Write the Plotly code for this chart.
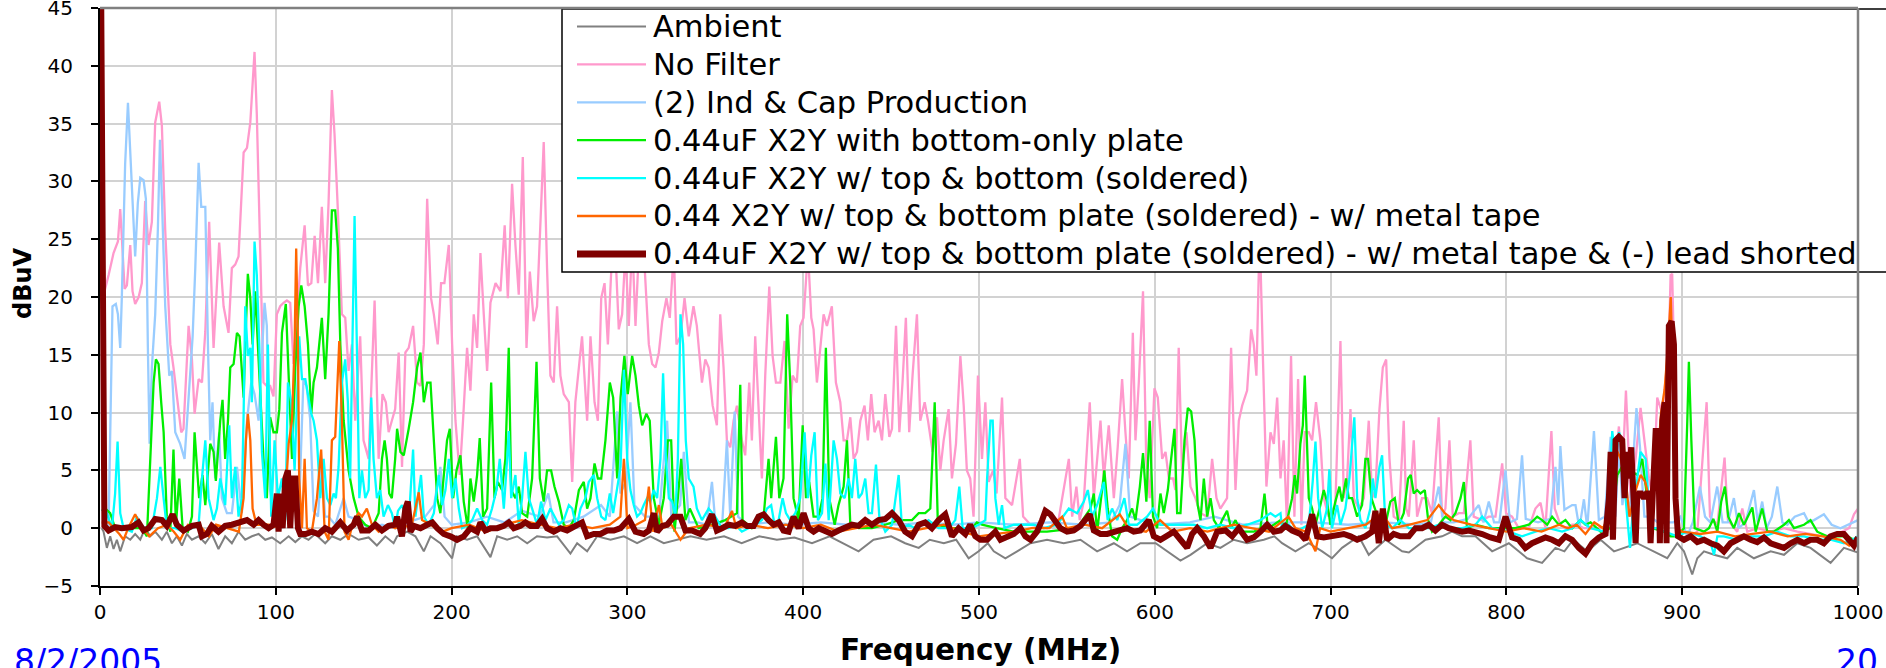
import plotly.graph_objects as go

# ---------------- data (frequency MHz, dBuV) ----------------
ambient = [(1,0),(2,-0.3),(3.9,-1.7),(5.8,-0.7),(7.7,-1.8),(9.6,-1.0),(11.5,-2.0),(14.3,-0.7),(17.2,-1.0),(20,-0.5),
 (22.9,-1.0),(25.7,0),(28.6,-0.7),(31.4,-0.3),(35.2,-1.0),(38,-0.3),(40.9,-1.3),(43.7,-0.7),(46.6,-1.5),(49.4,-0.5),
 (52.3,-1.0),(56.1,-0.7),(59.9,-1.3),(63.6,-0.5),(67.4,-1.8),(71.2,-0.7),(75,-1.3),(78.8,-0.3),(82.6,-1.0),(86.4,-0.7),
 (90.2,-0.5),(94,-1.0),(97.8,-0.8),(102.5,-1.3),(107.3,-0.7),(111.1,-1.2),(114.9,-0.7),(118.6,-1.0),(122.4,-0.5),
 (128.1,-1.3),(131.9,-0.7),(136.7,-1.0),(141.4,-0.5),(147.1,-1.0),(152.8,-0.8),(157.5,-1.5),(162.3,-0.7),(167,-1.3),
 (169,-0.7),(174.7,-0.3),(179.4,-0.7),(184.2,-2.0),(188,-0.7),(193.6,-1.3),(200.3,-2.6),(203,-0.7),(208.8,-1.0),
 (214.5,-0.7),(222.1,-2.5),(225.9,-0.7),(231.6,-1.0),(237.3,-0.7),(243,-1.3),(248.6,-0.7),(254.3,-0.8),(260,-0.7),
 (267.6,-2.2),(271.4,-1.3),(277.1,-2.0),(282.8,-0.7),(290.4,-1.0),(298,-0.7),(305.5,-1.3),(313.1,-0.7),(320.7,-1.3),
 (328.3,-1.0),(335.9,-0.7),(345,-1.0),(355,-0.7),(365,-1.3),(375,-0.7),(385,-1.0),(395,-0.8),(405,-1.3),(415,-0.7),
 (427.7,-1.7),(431.5,-2.0),(440,-1.0),(450,-0.7),(458,-1.3),(465.7,-1.7),(472,-1.0),(480,-1.3),(487,-1.0),(494.1,-2.6),
 (499.8,-2.0),(505,-1.3),(508.4,-2.0),(515,-2.6),(521.7,-2.0),(529.3,-1.3),(538.7,-1.0),(548.2,-1.3),(557.7,-1.0),
 (567.2,-2.0),(576.7,-1.3),(584.2,-2.0),(591.8,-1.3),(600.5,-1.3),(614.6,-2.8),(620.3,-2.3),(629.8,-1.3),(637.3,-1.7),
 (644.9,-1.0),(652.5,-1.3),(662,-1.0),(668,-0.7),(672.4,-1.3),(680,-2.0),(687.6,-1.3),(695.2,-2.0),(700.8,-2.6),
 (706.5,-1.7),(716,-0.7),(721.7,-2.3),(731.2,-1.0),(740.7,-2.0),(744.5,-2.1),(754,-1.0),(763.4,-0.7),(769.1,-0.3),
 (774.8,-0.7),(782.4,-0.7),(791.9,-2.0),(801.4,-1.3),(811.8,-2.6),(820.3,-3.0),(827.9,-1.7),(833,-2.0),(838,-1.0),
 (846,-2.0),(853.6,-1.0),(861.2,-2.0),(874.4,-1.3),(891.5,-2.6),(897.2,-1.3),(901,-2.0),(905.7,-4.0),(908.6,-2.6),
 (912.4,-2.0),(918.1,-2.3),(925.6,-2.6),(931.3,-1.7),(940.8,-2.6),(950.3,-2.0),(957.9,-2.3),(965.5,-1.3),(973,-1.7),
 (984.4,-3.0),(992,-1.7),(1000,-2.1)]

no_filter = [(0.8,19.0),(2.6,20.5),(4.9,21.9),(7.7,23.8),(10.2,24.8),(11.5,27.6),(12.4,25.2),(14,20.7),(15.3,21.0),
 (17.2,24.5),(18.5,20.5),(20,19.4),(22,20.0),(23.8,21.2),(25.7,28.3),(27.6,24.5),(29.5,26.5),(31.4,35.1),(33.7,36.9),
 (35.2,34.8),(37.1,25.8),(38.6,20.2),(40,15.9),(41.8,13.9),(44.7,9.9),(46.2,8.3),(47.5,8.6),(50.4,17.5),(52.3,14.6),
 (53.8,9.9),(56.1,12.9),(58,12.6),(59.9,17.0),(62.1,26.5),(64.6,15.6),(67.8,24.7),(70.3,19.2),(73.1,16.9),(75,22.5),
 (76.9,22.8),(78.8,23.5),(81.7,32.5),(83.6,32.9),(85.5,35.1),(87.9,41.2),(89.2,35.8),(91.1,24.2),(93,12.6),(94.9,12.3),
 (96.8,12.3),(98.7,11.4),(100.6,18.5),(102.5,19.2),(104.4,19.5),(106.3,19.7),(108.2,19.5),(110.1,14.2),(111.5,17.0),
 (113.9,22.5),(116.4,26.2),(118.3,21.0),(120.2,21.2),(122.1,25.3),(124,21.2),(126.2,27.8),(128.1,21.2),(130,28.1),
 (131.9,37.9),(133.4,34.1),(135.3,27.5),(137.6,18.5),(139.5,18.2),(141.4,13.6),(143.3,15.9),(145.2,9.3),(148,16.6),
 (149.9,7.6),(152.8,6.0),(156.2,19.7),(158.5,6.0),(160.7,11.6),(162.6,10.9),(164.2,8.3),(166,9.3),(167.9,10.3),
 (169.9,15.2),(171.8,5.3),(173.7,15.2),(175.6,15.6),(178.1,17.5),(180.4,12.6),(182.3,12.3),(184.2,15.9),(186.1,28.5),
 (188.3,19.9),(189.9,18.5),(192.1,15.9),(194,21.2),(195.9,21.2),(198.4,24.5),(200.3,15.9),(202.2,9.3),(204.6,4.6),
 (206.5,9.3),(208.8,15.6),(210.7,11.9),(212.6,18.5),(214.5,15.6),(216.4,23.8),(218.3,18.5),(220.2,13.6),(222.1,19.5),
 (225,21.2),(227.8,20.5),(230.2,26.2),(232,19.9),(234.4,29.8),(236.3,24.5),(238.2,20.2),(240.5,32.1),(242.6,15.6),
 (244.5,22.2),(246.7,17.9),(248.6,19.2),(250.7,27.8),(252.4,33.4),(254.3,22.5),(256.2,13.2),(258.1,12.6),(260,19.2),
 (261.9,13.2),(263.8,11.6),(266.7,10.9),(268.6,4.0),(270.4,10.9),(272.4,14.2),(274.2,16.6),(277.1,9.3),(279,16.6),
 (281.3,10.9),(283.2,9.3),(285.1,19.9),(287,21.2),(288.9,15.9),(290.7,21.9),(292.6,26),(295.1,17.2),(297,18.5),
 (298.9,24),(300.8,17.5),(302.7,25),(304.6,17.5),(306.5,24),(309.3,24),(312.2,15.9),(314.1,14.2),(316,13.9),
 (317.9,15.2),(319.8,17.9),(322.2,19.9),(324.1,18.2),(326.4,24),(327.9,15.9),(330.2,16.6),(332.5,19.9),(334.9,16.6),
 (337.6,19.2),(339.5,17.5),(342.4,12.6),(344.3,14.6),(346.2,13.9),(348.5,10.6),(350.9,8.9),(352.8,18.5),(354.7,13.9),
 (356.6,7.6),(358.5,7.0),(360.4,9.3),(362.3,10.6),(365.1,7.6),(367,6.3),(369.3,12.6),(370.8,7.6),(372.7,16.6),
 (374.6,10.9),(376.5,4.3),(378.4,13.2),(380.7,20.9),(382.6,14.9),(384.5,12.6),(387,12.6),(389.4,16.2),(391.7,8.6),
 (394,13.2),(396.4,12.6),(398.3,17.5),(400.2,18.2),(402.7,24),(404.6,18.2),(405.9,17.2),(407.8,12.6),(409.7,15.9),
 (411.6,18.5),(413.5,17.5),(416.3,19.2),(418.6,12.6),(421.1,10.9),(423,7.6),(424.9,7.6),(426.8,9.6),(428.7,6.0),
 (430.6,6.6),(432.5,9.3),(434.9,10.6),(436.8,7.6),(438.7,11.6),(440.6,8.3),(442.9,9.3),(444.8,7.6),(446.7,11.6),
 (449,7.9),(450.5,8.6),(452.8,17.5),(454.7,8.3),(456.5,12.6),(458.4,18.2),(460.3,8.3),(462.2,13.2),(464.7,18.5),
 (466.6,9.3),(469.1,10.9),(471,9.3),(473.6,6.6),(476.1,9.6),(478,5.0),(479.9,7.6),(482.7,10.3),(484.6,4.3),
 (486.9,7.3),(489.4,14.9),(491.3,10.6),(493.1,5.0),(495,4.3),(496.9,1.0),(499.4,13.2),(501.7,6.0),(503.6,10.9),
 (505.5,4.0),(508,5.0),(510,3.0),(513.1,11.3),(515,2.6),(518.8,2.0),(523.2,6.0),(525.1,1.0),(529.3,0.3),(538.7,0),
 (545,0.5),(551.1,6.0),(553,1.0),(555.4,3.6),(557.3,0.7),(559.6,2.3),(563,10.9),(565.3,2.6),(569.1,9.3),(571,4.3),
 (573.8,8.9),(576.7,2.6),(578.9,7.0),(581.4,12.9),(583.3,8.3),(585.2,4.3),(587.5,16.9),(589,7.6),(590.9,12.6),
 (593.3,20.5),(595.1,6.0),(597.1,2.6),(599.8,12.1),(601.7,11.3),(604.2,6.0),(606.1,6.6),(608,4.3),(610.4,4.3),
 (611.7,3.3),(613.6,15.6),(615.5,5.0),(618,8.3),(620.3,3.6),(623.1,2.6),(626,1.3),(629.8,1.0),(632.6,6.0),(635.1,2.6),
 (637.3,1.7),(641.1,2.6),(643.4,15.6),(645.9,3.3),(647.8,9.3),(649.7,10.6),(652.5,11.9),(654.8,17.2),(656.3,15.9),
 (657.8,13.2),(659.2,22.5),(660.2,22.5),(661.6,14.2),(663.5,3.6),(665.8,8.3),(667.7,7.3),(669.6,11.3),(671.5,4.3),
 (673.3,7.6),(675.2,0.3),(677.5,14.9),(679.4,1.0),(681.5,12.9),(683.4,0.3),(685.3,8.3),(687.6,8.3),(689.5,7.6),
 (691.7,10.9),(694.2,7.6),(696.1,2.6),(698.9,1.0),(702.7,2.0),(705.6,16.2),(707.5,2.6),(709.4,4.3),(711.3,10.3),
 (713.2,2.6),(716,1.7),(718.9,2.6),(721.7,9.3),(723.6,2.6),(725.5,3.3),(727.8,10.3),(729.7,13.9),(731.6,14.6),
 (733.5,6.0),(735.9,1.0),(738.8,0.7),(741.6,9.3),(743,1.7),(744.5,1.0),(747.3,7.6),(749.2,1.0),(752,2.6),(754.9,2.6),
 (757.7,1.3),(761.5,9.6),(763.4,1.0),(765.3,1.7),(767.6,7.6),(769.5,1.0),(772.9,1.3),(775.8,1.3),(779.5,7.6),
 (781.4,1.0),(786.2,0.7),(790,1.0),(793.8,1.0),(797.6,5.6),(799.8,1.3),(803.2,1.0),(807,0),(812.7,0),(816.5,1.7),
 (819.4,2.2),(822.2,0),(825.6,8.4),(827.5,1.7),(830.7,0.3),(833.6,0),(837.4,0.3),(840.3,0.3),(844.1,0),(849.8,0),
 (855.5,0),(859.3,1.7),(864,8.8),(865.9,4.3),(868,11.9),(870.6,2.6),(873.5,6.0),(876.3,10.4),(878.6,7.6),(881.1,4.3),
 (883.5,2.6),(885.8,11.3),(888.7,9.9),(890.5,12.6),(892.4,15.9),(893.4,21.9),(894.3,22.0),(895.7,12.6),(897.2,-0.3),
 (901,-1.0),(903.8,-0.7),(908.6,-0.3),(913.9,10.9),(915.8,1.0),(920,0.3),(924.1,6.1),(926,0.7),(931.3,-0.3),
 (934.2,1.7),(937,-0.3),(942.7,0),(950.3,-0.3),(957.9,0),(965.5,-0.3),(973,-0.5),(980.6,-0.7),(988.2,-0.5),
 (994.9,0),(997.7,1.2),(1000,1.7)]

ind_cap_production = [(1,0.5),(4.9,0.3),(7.1,19.2),(9,19.4),(10.2,18.5),(11.5,15.6),(12.4,19.9),(14.3,31.5),(15.9,36.8),
 (17.2,32.5),(18.5,28.1),(20,23.5),(21.5,28.1),(22.9,30.3),(24.8,30.1),(26.1,28.5),(27.2,15.9),(28.2,7.3),(29.5,13.9),
 (31.4,18.5),(32.9,25.8),(34.1,33.6),(35.2,28.5),(37.1,19.2),(39.4,13.2),(40.9,13.6),(42.8,8.3),(45.6,7.3),(48.1,6.0),
 (50.4,10.9),(52.7,16.6),(54.2,22.5),(56.1,31.6),(57.6,27.8),(59.9,27.8),(61.4,15.9),(62.7,7.6),(64,10.9),(65.5,4.3),
 (67.8,8.3),(69.3,2.6),(72.2,1.3),(75,1.3),(77.9,5.3),(80.7,1.3),(83.6,9.3),(86,12.6),(87.9,11.6),(90.2,9.3),
 (92.1,14.9),(93.6,19.5),(94.9,17.5),(96.8,3.3),(99.7,0.7),(103.5,0),(108.2,2.6),(113,0.7),(115.7,12.8),(117.5,12.3),
 (119.5,9.5),(121.5,1.5),(124,1.0),(126.2,6.0),(128,1.0),(130,1.0),(133.8,0.3),(138.6,2.6),(141.4,1.0),(147.1,0.7),
 (152.8,0),(160.4,0.3),(167.9,0),(175,0.5),(185,1),(190,2),(193.6,5.3),(196,1),(200,0.3),(210,0.5),(220,1),(230,0.5),
 (240,1.5),(250,1),(255,3),(258,0.5),(265,0.5),(275,1),(285,2),(290,1),(294.2,10.1),(296,3),(299,4),(301.7,10.9),
 (304,2),(310,1),(318,1),(322.6,9.3),(325,1),(330,2),(332.1,6.6),(335,0.5),(340,0.5),(345,0.3),(348.1,4.0),(350,0.5),
 (354,0.5),(356.6,7.6),(358.5,1),(361,10.1),(363,1.0),(368,0.3),(380,0.5),(395,0.3),(410,0.5),(425,0.3),(440,0.5),
 (455,0.3),(470,0.5),(485,0.3),(500,0.5),(520,0.3),(540,0.5),(560,0.3),(575,0.5),(580,2),(583.3,7.3),(586,1),
 (600,0.3),(620,0.5),(634,1.0),(650,0.3),(670,0.5),(690,0.5),(710,0.3),(730,0.5),(750,0.3),(757,0.5),(761.5,3.6),
 (764,0.5),(770,0.5),(778,0.8),(784.3,2.0),(787,0.5),(790,2.3),(793,0.5),(796,0.5),(799.5,5.0),(802,0.5),(806,0.8),
 (808.9,6.3),(811,0.8),(818,0.5),(825,0.8),(827.9,5.3),(829.5,2),(830.7,7.1),(833,1.6),(837.4,2.0),(839.3,2.0),
 (841.5,0),(844.1,2.5),(846,0),(849.8,8.4),(852.6,0.7),(856,1),(859.3,7.9),(862,1),(864,7.3),(866,2),(867.8,4.3),
 (870,1),(874,10.4),(876,7),(878.5,1),(882,1),(886,0.5),(890,0.5),(895,0.5),(899,1),(902.9,-0.7),(906,0.5),
 (910.1,3.6),(913,1),(916,0.5),(919.9,3.6),(923,0.5),(926,0.5),(929.4,2.6),(932,0),(936,0.5),(940.8,3.3),(943,0.5),
 (945.5,2.3),(948,0),(951,1),(954.1,3.6),(957,0.5),(959.8,0.3),(964,1),(969.3,1.3),(972,0.5),(975,0.7),(980.6,1.2),
 (985,0.3),(990,0),(993.9,0.3),(997,0.5),(1000,0.7)]

bottom_only_plate = [(1,1.5),(3,1.7),(5.8,1.3),(8.6,0),(16.2,0),(23.8,0),(26.7,-0.7),(28.6,6.0),(30.5,12.6),(31.8,14.6),
 (33.3,14.2),(34.8,10.9),(36.2,8.3),(38,1.0),(40,-0.3),(41.8,6.8),(43.2,0.3),(45.1,4.3),(47,0),(50,-0.3),(52.3,1.0),
 (53.8,8.3),(55.1,5.3),(56.4,2.6),(58.3,4.6),(59.9,2.0),(62.7,7.3),(64.6,6.6),(65.9,4.1),(68.4,9.3),(69.7,11.1),
 (71.2,6.0),(72.8,9.3),(74.1,13.9),(76,14.2),(77.9,16.9),(79.4,16.6),(80.7,13.9),(81.7,11.3),(82.6,15.9),(84.1,22.0),
 (85.5,19.9),(86.8,15.9),(88.3,20.5),(89.8,15.9),(91.1,10.9),(93,6.0),(94.9,2.6),(96.8,9.6),(98.7,8.3),(100.6,8.3),
 (102,10.3),(103.5,16.9),(105.7,19.4),(107.3,12.9),(109.2,6.0),(111.1,13.9),(113,19.2),(114.5,21.0),(116.4,19.2),
 (118.3,15.9),(120.2,9.9),(121.5,12.6),(123.4,13.9),(124.7,15.9),(126.2,18.2),(128.1,12.9),(130,18.5),(131.9,27.5),
 (133.8,27.5),(135.3,24.2),(136.7,15.9),(138.6,9.3),(141.4,5.0),(144.3,2.6),(147.1,1.0),(150.9,0.3),(154.7,0),
 (158.5,1.3),(160.4,6.0),(161.9,7.6),(163.2,6.0),(164.5,3.0),(166,2.6),(167.9,6.0),(169,8.6),(170.9,6.6),(172.8,6.3),
 (175.6,8.6),(178.1,10.9),(180.4,13.9),(182.3,15.2),(184.2,10.9),(186.1,12.6),(188,12.6),(189.9,7.6),(191.8,2.6),
 (193.6,1.3),(195.9,5.3),(197.4,7.6),(199,8.6),(200.9,2.6),(202.8,5.0),(205,6.3),(206.9,2.3),(209.2,0),(210.7,4.3),
 (212.6,2.3),(214.5,4.6),(216,7.8),(217.9,1.0),(220.2,1.7),(222.5,12.6),(224.4,2.6),(226.3,4.0),(228.7,3.3),
 (230.6,6.0),(232.5,15.6),(233.9,3.3),(236.3,2.6),(238.2,3.6),(240.1,1.3),(243,1.0),(245.8,4.3),(248.3,14.4),
 (250.2,4.3),(252.4,2.3),(254.3,5.0),(256.6,5.0),(258.5,3.6),(261,2.3),(263.8,0.3),(266.7,0),(269.5,0.7),(272.4,3.3),
 (275.2,4.0),(277.1,1.7),(279,2.6),(281.3,5.6),(283.2,4.3),(285.1,4.3),(287.5,7.6),(290,12.6),(291.9,11.3),
 (294.2,4.3),(296.1,11.3),(298.3,14.9),(300.2,11.6),(302.7,14.9),(304.6,13.2),(306.5,10.6),(308.4,8.9),(310.8,9.9),
 (312.7,9.3),(315,2.6),(317.9,0.3),(320.7,2.6),(323,7.6),(324.9,7.6),(326.8,-0.3),(328.7,2.6),(330.6,6.0),(333,0.7),
 (335.5,1.7),(340.5,0),(348.1,0.3),(355.7,0.7),(362.3,1.3),(364.2,12.4),(365.5,0.7),(370.8,0),(377.5,1.0),(380.3,6.0),
 (381.8,2.6),(384.5,7.9),(386.4,2.6),(388.8,4.3),(390.9,18.5),(392.6,12.6),(394.5,2.6),(397.4,0.7),(399.7,8.9),
 (401.6,2.6),(403.4,4.0),(405.9,1.0),(408.8,1.0),(411,2.6),(412.9,15.6),(414.8,2.6),(417.9,0.3),(420.1,2.0),(423,3.6),
 (424.9,7.6),(426.8,0.3),(431.5,0),(439.1,0),(446.7,0.3),(454.3,0.7),(461.9,0.7),(465.7,1.3),(469.4,1.3),(472.3,1.7),
 (474.8,10.9),(476.6,0.3),(482.7,0),(490.3,0),(496,0),(498.8,0.5),(501.7,0.3),(510,0),(519.8,-0.3),(538.7,-0.3),
 (555.8,0),(563.4,1.7),(565.3,3.0),(567.2,-0.3),(569.1,2.3),(571.3,5.0),(573.2,1.7),(575.7,-0.7),(578.6,-1.0),
 (581.4,0),(584.2,0.7),(587.1,1.7),(589,0.7),(591.5,3.6),(593.3,6.5),(595.2,2.3),(597.1,9.3),(599,1.0),(601.3,0),
 (603.2,3.0),(605.1,1.3),(607.4,3.3),(609.3,6.0),(611.2,8.6),(612.7,1.3),(614.6,1.3),(616.9,7.6),(618.8,10.4),
 (620.7,10.1),(622.6,7.6),(624.4,2.0),(626,0.7),(627.9,4.3),(629.8,1.0),(631.7,2.6),(633.6,0.7),(636.4,0),(638.3,0.7),
 (641.1,1.5),(643.4,0),(645.9,0.7),(648.7,-0.3),(656.3,-0.3),(660.1,0),(662.4,3.0),(664.3,0),(667.7,0.3),(671.5,0.7),
 (674.3,0),(678.1,2.6),(679.6,4.6),(680.9,3.0),(682.8,7.3),(684.2,8.9),(685.3,13.2),(686.6,7.6),(687.6,2.6),
 (689.5,1.7),(691.4,0.3),(694.2,2.0),(696.1,3.3),(698,2.3),(699.9,0.3),(702.7,2.3),(705,3.6),(706.5,2.3),(708.8,4.3),
 (710.3,2.6),(712.2,2.6),(715.1,1.0),(717.9,2.0),(719.8,6.0),(721.3,6.0),(723.2,2.6),(725.1,1.7),(727.4,0.7),
 (731.2,0.3),(734,2.3),(736.5,2.6),(738.8,0.3),(741.6,1.3),(744.1,4.3),(745.6,4.6),(747.3,3.0),(749.2,3.3),(751.1,3.0),
 (753.6,3.3),(755.5,0.7),(757.7,-0.3),(761.5,0.3),(765.3,1.0),(768.2,0.7),(771,1.3),(773.9,2.6),(775.8,4.0),
 (777.6,0),(782.4,0.3),(790,0),(797.6,0),(805.1,0),(812.7,0.3),(817.5,1.0),(820.3,0.7),(823.2,0.3),(826,1.0),
 (829.8,0.3),(833.6,0.7),(837.4,0),(842.2,0.7),(845,0.3),(847.9,0.5),(853.6,-0.3),(859.3,0),(863.1,4.6),(866.8,5.6),
 (870.6,5.0),(874.4,4.6),(877.3,6.0),(880.1,2.6),(883,0),(889.6,-0.3),(893.4,-0.7),(897.2,-0.7),(901,0),(902.9,9.3),
 (903.8,14.4),(905.2,7.6),(907.1,0),(912.4,-0.3),(915.2,0),(917.7,0.8),(920,-0.3),(922.2,2.3),(924.3,3.6),(926.2,1.0),
 (929.4,0),(932.3,1.3),(935.1,0.3),(939.9,1.8),(941.8,-0.3),(945.5,1.7),(948.4,-0.3),(952.2,-0.3),(957.9,0.3),
 (960.7,0.7),(963.6,0),(969.3,0.3),(973,0.7),(976.8,-0.3),(982.5,-0.7),(988.2,-0.7),(993.9,-0.7),(997.7,-1.0),
 (1000,-1.2)]

top_bottom_soldered = [(1,1.5),(3,1.7),(5,0.8),(6.8,0),(8.6,3.0),(10,7.5),(11.5,1.3),(13.4,0),(18.1,-0.3),(21,1.0),
 (23,0.3),(25.7,0),(29.5,0),(32.4,2.6),(34.3,5.3),(36.2,2.6),(38,0),(42.8,0),(47.5,-0.3),(52.3,0),(56.1,0.3),(58,4.3),
 (59.9,7.6),(61.8,2.6),(64.6,0.7),(66.5,1.7),(68.4,4.3),(71.2,2.0),(73.5,8.9),(75,2.6),(76.9,5.3),(78.8,1.0),
 (80.7,2.6),(81.7,9.9),(82.6,19.2),(84.1,14.9),(85.5,15.6),(86.4,10.9),(87.9,24.8),(89.2,21.9),(90.6,15.9),(92.1,6.6),
 (94,2.6),(95.5,15.9),(97.4,1.0),(99.3,7.6),(101.2,2.6),(103.5,4.3),(105.4,0.7),(106.9,12.6),(108.8,10.9),(110.7,5.0),
 (112,10.9),(113.3,16.6),(114.9,12.9),(116.8,12.9),(118.6,11.3),(120.2,9.9),(121.5,9.3),(123.4,7.6),(125.3,2.6),
 (127.2,6.0),(129.1,2.6),(131,2.0),(132.9,3.0),(134.2,2.6),(135.7,5.3),(137.6,12.6),(139.5,14.6),(141,10.9),
 (142.3,4.3),(143.7,15.9),(144.8,27.0),(146.1,15.9),(147.5,2.6),(149,5.0),(150.9,2.6),(152.8,3.3),(154.3,11.3),
 (155.6,6.0),(157.5,2.6),(159.4,3.3),(161.3,1.0),(163.8,2.0),(166,1.3),(167.9,0),(169.5,1.5),(171.8,2.0),(174,1.0),
 (176,1.5),(178.1,6.8),(179.4,1.0),(180.8,2.6),(182.6,4.6),(184.2,1.0),(187,0.3),(189.9,1.3),(192.7,4.6),(194.6,2.0),
 (196.5,3.3),(198.4,6.0),(200.3,2.6),(202.2,4.3),(204.1,1.7),(206,0),(209.2,0.3),(211.7,0.7),(214.5,1.7),(217.4,0.7),
 (220.2,0.3),(223,1.7),(225.5,3.3),(227.4,6.0),(229.7,1.7),(231.6,6.0),(232.5,8.4),(233.9,2.6),(236.3,4.6),(238.2,0.3),
 (240.1,2.6),(242,6.6),(243.9,2.6),(245.8,1.7),(248.6,0.3),(250.9,2.3),(253.4,0.7),(256.2,1.7),(258.5,1.0),(261,0.3),
 (263.8,0.7),(266.7,2.0),(268.6,1.7),(271,0),(273.3,1.7),(276.1,2.6),(278,4.0),(280.9,4.6),(282.8,2.6),(285.1,1.0),
 (287.5,0.7),(290,3.0),(291.9,1.3),(294.2,3.6),(296.1,5.3),(298,13.7),(299.9,6.0),(301.7,3.3),(303.6,2.0),(305.5,1.0),
 (307.4,1.3),(309.3,2.0),(311.2,2.6),(313.1,2.3),(315,3.3),(316.9,2.6),(318.8,6.0),(320.3,13.4),(321.9,6.0),
 (323.6,2.6),(325.5,2.3),(327.3,1.0),(328.7,6.0),(330.2,18.5),(331.7,15.9),(333.2,7.6),(334.9,4.3),(337.6,3.6),
 (339.5,1.7),(342.4,0.7),(346.2,1.7),(350,1.0),(353.8,0),(357.6,0),(361.3,0.3),(365.1,-0.3),(368.9,0),(372.7,0.3),
 (376.5,0.7),(379.4,1.7),(381.8,2.0),(383.7,0.3),(386,0.7),(388.3,2.6),(390.2,1.3),(392.6,0.7),(395.5,1.3),(398.3,2.6),
 (400.8,8.3),(402.7,2.6),(404.6,6.3),(406.5,8.3),(408.4,0.7),(410.7,1.3),(412.6,5.6),(414.5,0.7),(417.3,7.6),
 (419.2,6.0),(421.1,3.0),(423.6,2.6),(425.8,4.3),(427.7,2.6),(429.6,6.0),(431.5,2.6),(433.4,3.0),(435.3,4.3),
 (437.2,1.3),(439.1,1.3),(441.4,5.5),(443.3,1.0),(446.7,-0.3),(450.5,0.3),(454.3,4.6),(456.2,0),(459.9,0.3),
 (463.8,0),(467.5,0.3),(471.3,0.7),(477,0),(482.7,0),(486.5,0.7),(488.8,3.6),(490.7,0),(496,0),(499.8,0.3),
 (503.6,0.7),(504.6,4.3),(506.5,9.3),(507.8,9.3),(509.3,2.6),(511.2,0.3),(513.1,2.0),(514.5,0),(519.8,0.3),
 (525.5,0.3),(531.1,0.3),(536.8,0),(544.4,0.3),(551.1,1.7),(555.8,1.3),(559.6,2.3),(561.9,3.3),(564.3,1.0),
 (567.2,2.0),(571,4.0),(573.2,0.7),(575.7,1.7),(578.6,0.7),(582.7,2.6),(585.2,0.3),(589.9,0.3),(595.6,1.0),(599,1.7),
 (603.2,0.3),(608.9,0.3),(614.6,0.3),(622.2,0.3),(629.8,0),(637.3,0.3),(644.9,0),(652.5,0.3),(660.1,0.7),(665.8,1.3),
 (668.6,1.0),(671.5,1.3),(672.4,0),(676.2,0.3),(680,-0.3),(683.8,0),(687.6,0.3),(689.8,4.0),(691.4,7.5),(692.9,2.6),
 (695.2,0),(698,1.7),(699.3,5.1),(700.8,0),(703.7,2.0),(705.6,0.3),(708.4,1.7),(710.7,4.3),(712.2,7.6),(713.5,9.6),
 (715.1,2.6),(717,0.7),(719.8,0),(722.6,1.7),(724,4.3),(725.5,2.6),(727.8,5.3),(729.3,6.3),(731.2,0.3),(735,0),
 (739.7,0.7),(744.5,0),(750.1,0),(755.8,0),(761.5,0.3),(767.2,0),(774.8,0),(782.4,0.3),(786.2,1.0),(791.9,0),
 (801.4,-0.3),(808.9,-0.7),(816.5,-0.3),(824.1,0),(831.7,-0.3),(837.4,0),(842.2,0.7),(847.9,0),(855.5,-0.3),
 (858.3,2.6),(860.2,8.4),(862.1,6.0),(864,8.3),(865.9,7.6),(867.8,2.6),(870.3,-1.7),(872.5,2.6),(874.4,4.3),
 (876.3,6.6),(879.2,6.0),(882,0),(885.8,0),(890,-0.3),(897.2,-0.7),(902.9,-0.3),(910.5,-0.7),(916.2,-1.3),
 (918.1,-2.3),(920,-0.7),(923.7,-0.7),(931.3,-1.0),(938.9,-0.7),(946.5,-0.7),(954.1,-0.3),(961.7,-0.7),(969.3,-0.7),
 (976.8,-1.0),(984.4,-1.0),(992,-1.3),(996.8,-1.0),(1000,-0.7)]

metal_tape = [(1,0.5),(5,0.5),(8,0),(11,-0.5),(13.4,-1.0),(16,0),(20,1.2),(24,0),(28,-0.7),(33,0),(38,0.3),(42,-0.3),
 (45.6,-1.0),(50,0.3),(58,0),(62,-0.7),(66,0.3),(73,0),(79,-0.3),(81.7,2.6),(83,7.6),(84.1,9.9),(85.5,7.6),(86.8,1.7),
 (89,0.3),(95.9,0.3),(102.5,0),(105.4,2.6),(107.3,7.3),(109.2,9.3),(110.7,15.9),(111.6,24.2),(112.6,15.9),(113.3,4.3),
 (114.9,0),(116.4,6.0),(117.7,0),(120.5,-0.3),(123.4,2.6),(125.8,6.8),(127.8,-0.3),(130,-1.0),(131.9,7.6),(133.8,7.9),
 (135,12.6),(136.1,16.2),(137.6,9.3),(139.1,-0.3),(141.4,-1.0),(144.3,0.7),(147.1,1.3),(149,1.0),(151.8,1.7),
 (154.7,0.3),(158.5,-0.3),(163.2,0.3),(167.9,0),(172,0.3),(177,0),(181.3,3.1),(183.2,0.7),(188,0.3),(195,-0.3),
 (200,0),(210,0.3),(220,-0.3),(230,0.3),(240,0.7),(250,0.3),(260,0),(270,0.3),(280,0),(290,0.3),(296,1.0),(298,6.0),
 (300,0),(305,0.3),(310,0.7),(312.2,3.6),(314.5,-0.3),(317.9,2.0),(320,0),(325,0.3),(330.2,-1.0),(335,0),(345,0.3),
 (355,0),(359.5,1.5),(362,0),(370,0.3),(380,0),(390,0.3),(400,0),(410,0.3),(420,-0.3),(430,0),(440,0.3),(450,0),
 (460,-0.3),(470,0),(480,0.3),(490,-0.3),(500,-0.7),(510,-0.5),(520,-0.3),(530,0),(540,0),(547.3,1.0),(550,0),
 (560,0.3),(570,0),(580.1,1.2),(585,0),(595,-0.3),(603,0.7),(610,-0.3),(620,0),(630,-0.3),(637,0),(645,0.3),(655,0),
 (665,-0.3),(676,1.0),(680,0),(686,-0.3),(691.4,-2.0),(694,0),(700,-0.3),(710,0),(720,0.3),(729,1.3),(735,0),
 (745,0.3),(755,0.7),(761.5,2.0),(765,1.3),(770,0.7),(780,0.3),(790,0),(800,-0.3),(810,0),(820,-0.3),(830,0.3),
 (835,0),(840,0.3),(845,-0.5),(850,0.5),(855,0),(858,1),(860,5),(862,7),(865,6),(868,4),(870,1),(873,3),(876.3,4.6),
 (879,4),(882,2),(885,4),(888,10),(890,12),(892,16),(893.5,20),(895,12),(897,0),(900,-0.3),(910,-0.5),(920,-0.3),
 (930,-0.7),(940,-0.5),(950,-0.3),(960,-0.7),(970,-0.5),(980,-0.7),(990,-1.0),(995,-1.5),(1000,-1.0)]

lead_shorted = [(0.6,48),(1.8,0.7),(2.5,0.2),(4.9,-0.2),(8.6,0.1),(12.4,0),(18.1,0.1),(21.9,0.5),(24.8,-0.2),(27.6,0),
 (31.4,0.8),(35.2,0.7),(38,0.2),(41.3,1.2),(43.7,0.3),(47.5,-0.2),(52.3,0.2),(56.1,0.3),(58,-0.7),(60.8,-0.5),
 (63.6,0.2),(67.4,-0.3),(71.2,0.2),(75,0.3),(78.8,0.5),(83.6,0.7),(87.4,0.3),(90.2,0.7),(93,0.3),(95.9,0),(98.7,0.3),
 (100.6,3.0),(101.6,-0.3),(102.5,3.0),(103.9,0),(105.4,4.3),(106.9,5.0),(108.2,0),(109.5,4.3),(111.1,4.3),(112.6,0),
 (113.9,-0.5),(117,-0.5),(120.5,-0.3),(124.3,-0.5),(128.1,0),(131.9,-0.3),(136.7,0.5),(140.5,-0.2),(144.3,0.3),
 (146.2,1.0),(149,-0.2),(152.8,-0.2),(156.6,0.3),(160.4,-0.2),(164.2,0.2),(167.9,0.3),(169,1.0),(171.8,-0.7),
 (173.7,1.7),(175.1,2.3),(176.6,-0.3),(178.5,0.2),(182.3,0),(186.1,0.3),(189,0.5),(191.8,0),(195.5,-0.5),(199.3,-0.7),
 (203.1,-1.0),(206.9,-0.7),(210.7,0),(214.5,-0.3),(216.4,0.5),(219.2,-0.2),(222.1,0),(225.9,0),(229.7,0.2),(232.5,0.5),
 (235.4,0),(239.2,0.2),(242,0.5),(244.9,0.2),(248.6,0.2),(251.5,0.8),(254.3,0),(258.1,-0.3),(261.9,0),(265.7,-0.2),
 (270.5,0.2),(274.2,0.5),(277.1,-0.7),(280.9,-0.5),(284.7,-0.5),(288.5,-0.2),(292.3,-0.2),(296.1,0),(300.8,0.8),
 (304.6,-0.3),(309.3,-0.5),(312.2,-0.2),(315,1.3),(316.9,-0.3),(319.8,0.2),(322.6,0.3),(326.4,1.0),(330.2,1.0),
 (333,-0.2),(336.7,-0.2),(341.4,-0.5),(344.3,0),(348.1,1.2),(350.9,-0.2),(353.8,0),(357.6,0.3),(361.3,0.2),(365.1,0.5),
 (368,0.2),(371.8,0.2),(374.6,1.0),(377.5,1.2),(380.3,0.7),(383.2,0.3),(386.1,0.5),(388.8,-0.2),(391.7,-0.3),
 (394.5,1.0),(397.4,0),(400.2,1.3),(403.1,0),(405.9,-0.3),(408.8,0),(412.5,-0.2),(416.3,-0.5),(420.1,-0.2),(423.9,0),
 (427.7,0.3),(431.5,0.2),(435.3,0.7),(439.1,0.3),(442.9,0.7),(446.7,0.8),(450.5,1.3),(454.3,0.7),(458,-0.3),
 (461.9,-0.7),(465.7,0.3),(469.4,0.5),(473.2,0),(477,0.7),(480.8,1.2),(484.6,-0.7),(488.4,0),(492.2,-0.5),(495,0.3),
 (497.9,-0.7),(500.8,-1.0),(504.6,-1.0),(509.3,-0.3),(512.2,-1.0),(516,-0.7),(519.8,-0.5),(523.6,0),(526.4,-0.7),
 (529.3,-1.0),(533,-0.3),(535.9,0.7),(537.8,1.5),(540.6,1.2),(543.5,0.5),(546.3,0),(550.1,-0.3),(553.9,-0.2),
 (557.7,0.2),(560.5,0.7),(563,1.2),(565.3,-0.2),(569.1,-0.5),(572.9,-0.5),(576.7,-0.3),(580.5,-0.2),(584.2,0),
 (588,-0.3),(591.8,-0.2),(596.6,0.7),(599.4,-0.7),(603.2,-1.0),(607,-0.7),(610.8,-0.3),(614.6,-1.0),(618.4,-1.7),
 (621.2,-0.5),(624.1,0),(627.9,-0.7),(631.7,-1.7),(635.5,-0.3),(640.2,-0.2),(644,-0.7),(647.8,0),(652.5,-1.0),
 (656.3,-0.8),(660.1,-0.3),(663.9,0.3),(667.7,-0.3),(671.5,-0.2),(674.3,0.2),(678.1,-0.2),(682.8,-0.5),(685.7,-1.0),
 (689.5,1.2),(692.3,-0.7),(696.1,-0.8),(699.9,-0.7),(703.7,-0.7),(707.5,-0.5),(711.3,-0.7),(715.1,-1.0),(719.8,-0.7),
 (723.6,-0.3),(725.5,1.5),(727.4,-1.3),(729.7,1.7),(732.1,-1.0),(735.9,-0.5),(739.7,-0.7),(744.5,-0.7),(748.3,0),
 (752,0),(755.8,0.3),(759.6,-0.2),(763.4,0.3),(767.2,0),(771,-0.2),(774.8,-0.3),(778.6,-0.2),(782.4,-0.3),
 (786.2,-0.5),(790.9,-0.8),(795.7,-1.0),(799.5,1.0),(803.2,-0.8),(807,-1.0),(810.8,-1.7),(814.6,-1.3),(818.4,-1.0),
 (822.2,-0.8),(826,-1.0),(829.8,-1.3),(833.6,-0.7),(837.4,-1.0),(841.2,-1.7),(845,-2.2),(848.8,-1.3),(852.6,-0.8),
 (856.4,-0.5),(858.3,2.6),(859.3,6.6),(860.6,-1.0),(862.1,7.6),(864,7.9),(865.9,7.6),(867.2,2.6),(868.4,6.6),
 (869.7,4.3),(871,7.0),(872.5,2.6),(873.5,-1.3),(874.4,2.6),(875.4,3.0),(876.7,3.0),(878.2,2.6),(879.7,3.0),(881,3.0),
 (882,-1.3),(883.5,5.3),(884.9,8.4),(886.2,8.4),(887.3,-1.3),(888.7,9.3),(890,10.9),(891.1,-1.3),(892.4,17.5),
 (894,17.9),(895.3,15.9),(896.2,2.6),(897.6,-0.7),(901,-1.0),(904.8,-0.7),(908.6,-1.2),(912.4,-1.0),(916.2,-1.3),
 (920,-1.5),(923.7,-2.0),(927.5,-1.3),(931.3,-1.0),(935.1,-0.7),(938.9,-1.0),(942.7,-1.2),(946.5,-0.8),(950.3,-1.3),
 (954.1,-1.5),(957.9,-1.7),(961.7,-1.3),(965.5,-1.0),(969.3,-1.3),(973,-1.0),(976.8,-1.0),(980.6,-1.3),(984.4,-0.7),
 (988.2,-0.5),(992,-0.5),(994.9,-1.0),(997.7,-1.5),(1000,-0.8)]

series_names = ["Ambient", "No Filter", "(2) Ind & Cap Production", "0.44uF X2Y with bottom-only plate",
                "0.44uF X2Y w/ top & bottom (soldered)", "0.44 X2Y w/ top & bottom plate (soldered) - w/ metal tape",
                "0.44uF X2Y w/ top & bottom plate (soldered) - w/ metal tape & (-) lead shorted"]
series_data = [ambient, no_filter, ind_cap_production, bottom_only_plate, top_bottom_soldered, metal_tape, lead_shorted]
series_colors = ["#808080", "#ff99cc", "#99ccff", "#00ee00", "#00ffff", "#ff6600", "#800000"]
series_widths = [2, 2.3, 2.3, 2.3, 2.3, 2.3, 6]

x_ticks = list(range(0, 1001, 100))
y_ticks = list(range(-5, 46, 5))

FONT = "DejaVu Sans"

W, H = 1886, 668
L, R, T, B = 100, 28, 8, 82
pw, ph = W - L - R, H - T - B

def px_x(px):
    return (px - L) / pw

def px_y(py):
    return (H - B - py) / ph

fig = go.Figure()
for name, pts, color, w in zip(series_names, series_data, series_colors, series_widths):
    fig.add_trace(go.Scatter(
        x=[p[0] for p in pts], y=[p[1] for p in pts], mode="lines", name=name,
        line=dict(color=color, width=w), showlegend=False))

axis_common = dict(showgrid=True, gridcolor="#d2d2d2", gridwidth=1.5, showline=True, linecolor="black",
                   linewidth=2, ticks="outside", ticklen=7, tickwidth=1.5, tickcolor="black", zeroline=False,
                   automargin=False, ticklabeloverflow="allow",
                   tickfont=dict(family=FONT, size=20, color="black"))

# legend box (white, covers the lines beneath like the original) + entries
shapes = [
    dict(type="rect", xref="paper", yref="paper", x0=px_x(562), x1=px_x(1900), y0=px_y(272), y1=px_y(9),
         fillcolor="white", line=dict(color="black", width=1.5), layer="above"),
    dict(type="line", xref="paper", yref="paper", x0=0, x1=1, y0=1, y1=1,
         line=dict(color="#808080", width=2.5), layer="above"),
    dict(type="line", xref="paper", yref="paper", x0=1, x1=1, y0=0, y1=1,
         line=dict(color="#808080", width=2.5), layer="above"),
]
annotations = []
row0, row_step = 26.5, 37.9
for i, (name, color, w) in enumerate(zip(series_names, series_colors, series_widths)):
    yc = row0 + i * row_step
    shapes.append(dict(type="line", xref="paper", yref="paper", x0=px_x(577), x1=px_x(646),
                       y0=px_y(yc), y1=px_y(yc), line=dict(color=color, width=w if w < 5 else 7),
                       layer="above"))
    annotations.append(dict(text=name, xref="paper", yref="paper", x=px_x(651), y=px_y(yc),
                            xanchor="left", yanchor="middle", showarrow=False,
                            font=dict(family=FONT, size=30.5, color="black")))

annotations += [
    dict(text="<b>dBuV</b>", xref="paper", yref="paper", x=px_x(23), y=px_y(283), textangle=-90,
         showarrow=False, xanchor="center", yanchor="middle", font=dict(family=FONT, size=24, color="black")),
    dict(text="<b>Frequency (MHz)</b>", xref="paper", yref="paper", x=px_x(980), y=px_y(650),
         showarrow=False, xanchor="center", yanchor="middle", font=dict(family=FONT, size=29.5, color="black")),
    dict(text="8/2/2005", xref="paper", yref="paper", x=px_x(12), y=px_y(640), showarrow=False,
         xanchor="left", yanchor="top", font=dict(family=FONT, size=33, color="#0000ff")),
    dict(text="20", xref="paper", yref="paper", x=px_x(1834), y=px_y(640), showarrow=False,
         xanchor="left", yanchor="top", font=dict(family=FONT, size=33, color="#0000ff")),
]

fig.update_layout(
    width=W, height=H, margin=dict(l=L, r=R, t=T, b=B, autoexpand=False),
    paper_bgcolor="white", plot_bgcolor="white",
    xaxis=dict(range=[0, 1000], tickvals=x_ticks, ticklabelstandoff=0, **axis_common),
    yaxis=dict(range=[-5, 45], tickvals=y_ticks, ticklabelstandoff=14, **axis_common),
    showlegend=False,
    shapes=shapes,
    annotations=annotations,
)

# the page's default 8px body margin would shift the whole figure; remove it
fig.write_html("out.html", config={"displayModeBar": False},
               post_script="document.body.style.margin='0px';document.body.style.overflow='hidden';")
